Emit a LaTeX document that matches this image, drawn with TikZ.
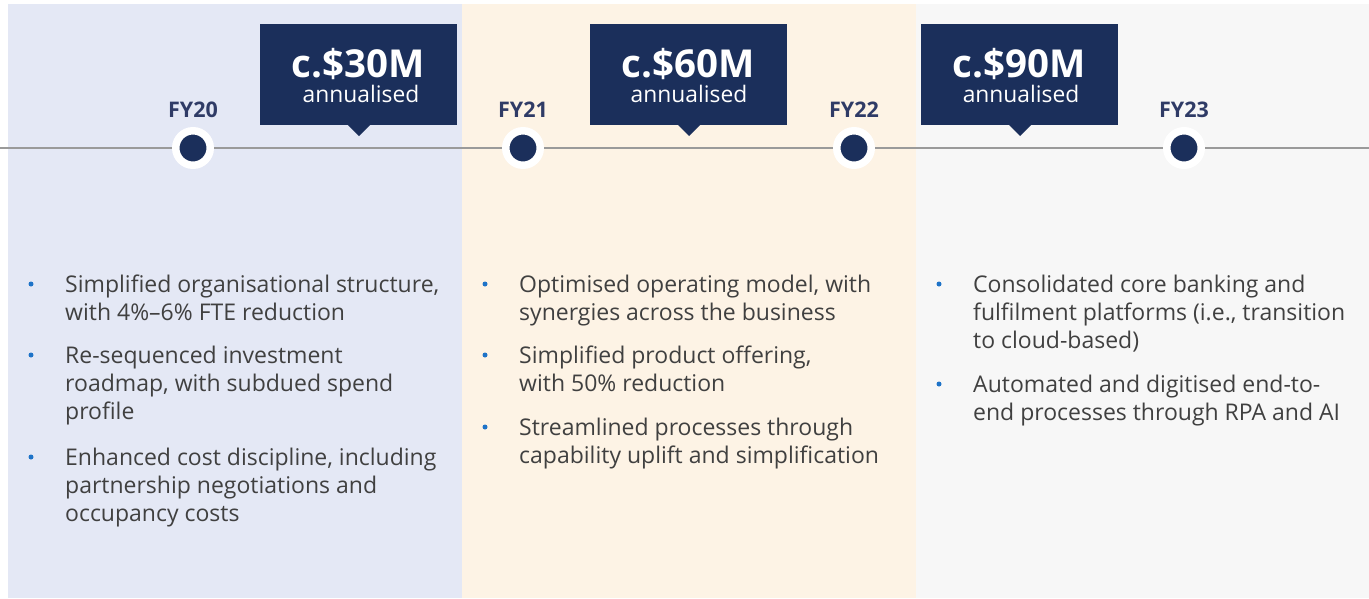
\documentclass[tikz,border=0pt]{standalone}
\usepackage{fontspec}
\setmainfont{Open Sans}
\definecolor{panelA}{HTML}{E4E8F5}
\definecolor{panelB}{HTML}{FDF3E5}
\definecolor{panelC}{HTML}{F7F7F7}
\definecolor{navy}{HTML}{1B2F5B}
\definecolor{fylab}{HTML}{2F3B66}
\definecolor{tline}{HTML}{9A9A9A}
\definecolor{bodytxt}{HTML}{404040}
\definecolor{bulletblue}{HTML}{1E73C8}
\begin{document}
\begin{tikzpicture}[x=1pt,y=-1pt,
  panel/.style={fill=#1,draw=none},
  dot/.style={circle,fill=navy,draw=white,line width=7.5pt,minimum size=34.5pt,inner sep=0pt,outer sep=3.75pt},
  fylabel/.style={anchor=base,text=fylab,font=\fontsize{21.5}{24}\selectfont\bfseries,inner sep=0pt},
  callout/.style={rectangle,fill=navy,draw=none,minimum width=197pt,minimum height=101pt,inner sep=0pt},
  valtxt/.style={anchor=base,text=white,font=\fontsize{38.5}{40}\selectfont\bfseries,inner sep=0pt},
  anntxt/.style={anchor=base,text=white,font=\fontsize{22.8}{26}\selectfont,inner sep=0pt},
  item/.style={anchor=north west,align=left,text=bodytxt,font=\fontsize{23}{28}\selectfont,inner sep=0pt},
  bul/.style={circle,fill=bulletblue,minimum size=5pt,inner sep=0pt}
]
\useasboundingbox (0,0) rectangle (1369,598);
\fill[white] (0,0) rectangle (1369,598);
% panels
\fill[panel=panelA] (8,4) rectangle (462,598);
\fill[panel=panelB] (462,4) rectangle (916,598);
\fill[panel=panelC] (916,4) rectangle (1369,598);

% timeline dots
\node[dot] (d20) at (193,148) {};
\node[dot] (d21) at (523,148) {};
\node[dot] (d22) at (854,148) {};
\node[dot] (d23) at (1184,148) {};
\coordinate (tl) at (0,148);
\coordinate (tr) at (1369,148);
\draw[tline,line width=2.2pt] (tl) -- (d20) -- (d21) -- (d22) -- (d23) -- (tr);

% FY labels
\node[fylabel] (l20) at (193,117) {FY20};
\node[fylabel] (l21) at (523,117) {FY21};
\node[fylabel] (l22) at (854,117) {FY22};
\node[fylabel] (l23) at (1184,117) {FY23};

% callouts
\node[callout] (b1) at (358.5,74.5) {};
\fill[navy] (347,124) -- (371,124) -- (359,136) -- cycle;
\node[valtxt] (v1) at (358,77) {c.\$30M};
\node[anntxt] (a1) at (361,102) {annualised};

\node[callout] (b2) at (688.5,74.5) {};
\fill[navy] (677,124) -- (701,124) -- (689,136) -- cycle;
\node[valtxt] (v2) at (688,77) {c.\$60M};
\node[anntxt] (a2) at (689,102) {annualised};

\node[callout] (b3) at (1019.5,74.5) {};
\fill[navy] (1008,124) -- (1032,124) -- (1020,136) -- cycle;
\node[valtxt] (v3) at (1019,77) {c.\$90M};
\node[anntxt] (a3) at (1021,102) {annualised};

% column 1
\node[bul] (p11) at (31,284) {};
\node[item] (t11) at (65,272.4) {\strut Simplified organisational structure,\\with 4\%–6\% FTE reduction};
\node[bul] (p12) at (31,355) {};
\node[item] (t12) at (65,343.4) {\strut Re-sequenced investment\\roadmap, with subdued spend\\profile};
\node[bul] (p13) at (31,457) {};
\node[item] (t13) at (65,445.4) {\strut Enhanced cost discipline, including\\partnership negotiations and\\occupancy costs};

% column 2
\node[bul] (p21) at (485,284) {};
\node[item] (t21) at (519,272.4) {\strut Optimised operating model, with\\synergies across the business};
\node[bul] (p22) at (485,355) {};
\node[item] (t22) at (519,343.4) {\strut Simplified product offering,\\with 50\% reduction};
\node[bul] (p23) at (485,427) {};
\node[item] (t23) at (519,415.4) {\strut Streamlined processes through\\capability uplift and simplification};

% column 3
\node[bul] (p31) at (939,284) {};
\node[item] (t31) at (973,272.4) {\strut Consolidated core banking and\\fulfilment platforms (i.e., transition\\to cloud-based)};
\node[bul] (p32) at (939,384) {};
\node[item] (t32) at (973,372.4) {\strut Automated and digitised end-to-\\end processes through RPA and AI};
\end{tikzpicture}
\end{document}
